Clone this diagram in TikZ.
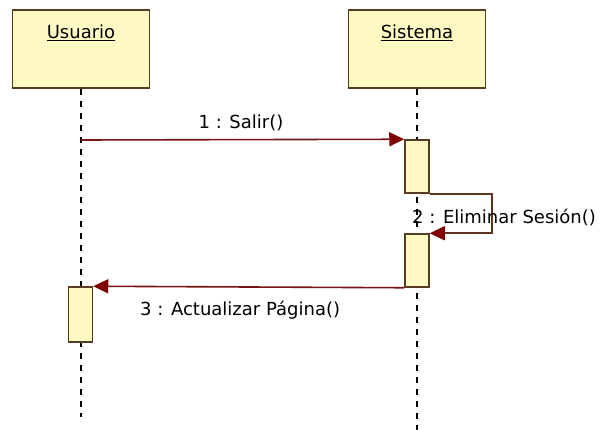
\documentclass[tikz,border=0pt]{standalone}
\usepackage{fontspec}
\setmainfont{DejaVu Sans}
\usetikzlibrary{arrows.meta}
\definecolor{boxfill}{RGB}{255,250,196}
\definecolor{boxline}{RGB}{88,60,32}
\definecolor{msg}{RGB}{120,20,20}
\definecolor{tip}{RGB}{128,0,0}
\begin{document}
\begin{tikzpicture}[x=1pt,y=-1pt,
 objbox/.style={draw=boxline,fill=boxfill,line width=1.8pt,minimum width=137pt,minimum height=78pt,inner sep=0pt},
 actbox/.style={draw=boxline,fill=boxfill,line width=1.5pt,minimum width=24pt,inner sep=0pt},
 lifeline/.style={draw=black,line width=1.2pt,dash pattern=on 6pt off 6pt},
 msgline/.style={draw=msg,line width=1.6pt,-{Triangle[length=15pt,width=14pt,color=tip]}},
 selfline/.style={msgline,draw=boxline!80!msg},
 lbl/.style={font=\fontsize{18}{20}\selectfont,inner sep=0pt}]
\useasboundingbox[fill=white] (0,0) rectangle (603,430);
% objects
\node[objbox] (u) at (81,49) {};
\node[objbox] (s) at (417,49) {};
\node[lbl] (ut) at (81,33) {\underline{Usuario}};
\node[lbl] (st) at (417,33) {\underline{Sistema}};
% lifelines
\coordinate (uend) at (81,417);
\coordinate (send) at (417,430);
\draw[lifeline] (u.south) -- (uend);
\draw[lifeline] (s.south) -- (send);
% activations
\node[actbox,minimum height=53pt] (a1) at (417,166.5) {};
\node[actbox,minimum height=53pt] (a2) at (417,260.5) {};
\node[actbox,minimum height=55pt] (a3) at (80.5,314.5) {};
% messages
\coordinate (m1s) at (81,140);
\draw[msgline] (m1s) -- (a1.north west);
\draw[selfline] (a1.south east) -- ++(62,0) |- (a2.north east);
\draw[msgline] (a2.south west) -- (a3.north east);
% labels
\node[lbl] (l1) at (241,123) {1 : Salir()};
\node[lbl,anchor=west] (l2) at (412,217) {2 : Eliminar Sesión()};
\node[lbl,anchor=west] (l3) at (140,310) {3 : Actualizar Página()};
\end{tikzpicture}
\end{document}
